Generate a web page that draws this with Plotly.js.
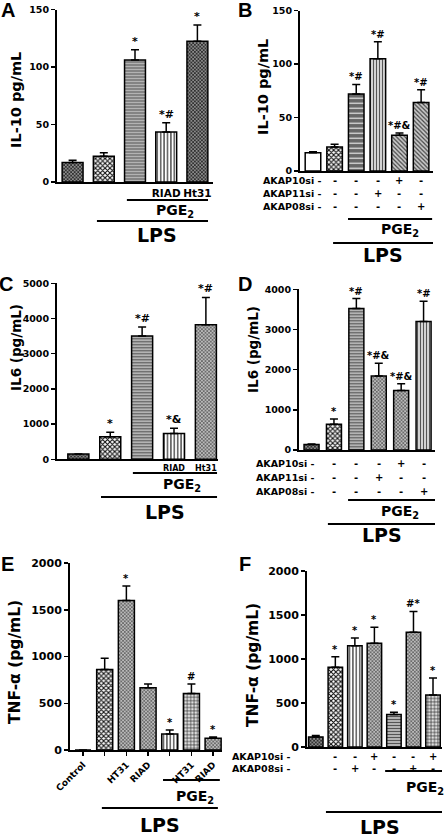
<!DOCTYPE html>
<html><head><meta charset="utf-8">
<script src="https://cdn.plot.ly/plotly-3.0.1.min.js"></script>
<style>html,body{margin:0;padding:0;background:#fff}#chart{width:445px;height:836px}</style>
</head><body><div id="chart"></div>
<script>
// ---------- DATA ----------
// Panel A : IL-10 (pg/mL)
const aValues = [17, 22.5, 106, 43.5, 122.5];
const aErrors = [2, 3, 9, 8, 14];
const aMarks  = ['', '', '*', '*#', '*'];
const aTicks  = ['', '', '', 'RIAD', 'Ht31'];
// Panel B : IL-10 (pg/mL)
const bValues = [17, 22.5, 72, 105, 33.5, 64];
const bErrors = [1, 2.5, 9, 16, 2, 12];
const bMarks  = ['', '', '*#', '*#', '*#&', '*#'];
const bAkap10 = ['-', '-', '-', '-', '+', '-'];
const bAkap11 = ['-', '-', '-', '+', '-', '-'];
const bAkap08 = ['-', '-', '-', '-', '-', '+'];
// Panel C : IL6 (pg/mL)
const cValues = [150, 640, 3500, 730, 3820];
const cErrors = [0, 130, 260, 150, 780];
const cMarks  = ['', '*', '*#', '*&', '*#'];
const cTicks  = ['', '', '', 'RIAD', 'Ht31'];
// Panel D : IL6 (pg/mL)
const dValues = [140, 640, 3520, 1840, 1480, 3200];
const dErrors = [10, 130, 250, 320, 170, 500];
const dMarks  = ['', '*', '*#', '*#&', '*#&', '*#'];
const dAkap10 = ['-', '-', '-', '-', '+', '-'];
const dAkap11 = ['-', '-', '-', '+', '-', '-'];
const dAkap08 = ['-', '-', '-', '-', '-', '+'];
// Panel E : TNF-alpha (pg/mL)
const eTicks  = ['Control', '', 'HT31', 'RIAD', '', 'HT31', 'RIAD'];
const eValues = [0, 860, 1600, 665, 170, 605, 125];
const eErrors = [0, 120, 155, 40, 45, 100, 15];
const eMarks  = ['', '', '*', '', '*', '#', '*'];
// Panel F : TNF-alpha (pg/mL)
const fValues = [115, 905, 1150, 1180, 370, 1305, 590];
const fErrors = [15, 120, 90, 180, 25, 235, 195];
const fMarks  = ['', '*', '*', '*', '*', '#*', '*'];
const fAkap10 = ['-', '-', '-', '+', '-', '-', '+'];
const fAkap08 = ['-', '-', '+', '-', '-', '+', '-'];

// ---------- STYLES ----------
const W = 445, H = 836;
const px = v => v / W, py = v => 1 - v / H;
const BOLD = 'DejaVu Sans';
const FILLS = {
  white:      {shape: '',   fg: '#000000', bg: '#ffffff', size: 3,   sol: 0.3},
  dark:       {shape: 'x',  fg: '#1e1e1e', bg: '#8a8a8a', size: 2.5, sol: 0.5},
  checker:    {shape: 'x',  fg: '#111111', bg: '#ffffff', size: 3.4, sol: 0.55},
  hlines:     {shape: '-',  fg: '#555555', bg: '#d2d2d2', size: 3,   sol: 0.5},
  hlinesDark: {shape: '-',  fg: '#f0f0f0', bg: '#666666', size: 5,   sol: 0.22},
  vlines:     {shape: '|',  fg: '#2a2a2a', bg: '#ffffff', size: 3.4, sol: 0.35},
  vlinesGray: {shape: '|',  fg: '#555555', bg: '#e0e0e0', size: 3,   sol: 0.4},
  grayx:      {shape: 'x',  fg: '#505050', bg: '#bababa', size: 2.5, sol: 0.45},
  diag:       {shape: '\\', fg: '#444444', bg: '#cacaca', size: 3,   sol: 0.4},
  grid:       {shape: '+',  fg: '#2e2e2e', bg: '#dedede', size: 3.4, sol: 0.35}
};

const panels = [
  {letter: 'A', lx: 8, ly: 10, values: aValues, errors: aErrors, marks: aMarks, ticks: aTicks,
   fills: ['dark', 'checker', 'hlines', 'vlines', 'dark'],
   xd: [57, 213], yd: [9.5, 182], yr: [0, 150], dtick: 50, xr: [-0.5, 4.5], bw: 0.67,
   tf: 9.5, mf: 11, xtf: 10.5, title: 'IL-10 pg/mL', tx: 16, ty: 100, ts: 14.5,
   brackets: [{x0: 1.74, x1: 4.34, y: 200, text: 'PGE<sub>2</sub>', lx: 3.28, ly: 211, fs: 14},
              {x0: 0.78, x1: 4.34, y: 221, text: 'LPS', lx: 2.7, ly: 235, fs: 19}], rows: []},
  {letter: 'B', lx: 245, ly: 10, values: bValues, errors: bErrors, marks: bMarks, ticks: null,
   fills: ['white', 'checker', 'hlinesDark', 'vlinesGray', 'diag', 'diag'],
   xd: [300, 433], yd: [10.7, 171], yr: [0, 150], dtick: 50, xr: [-0.6, 5.55], bw: 0.72,
   tf: 9.5, mf: 10, title: 'IL-10 pg/mL', tx: 263, ty: 87, ts: 14.5,
   brackets: [{x0: 1.62, x1: 5.51, y: 219, text: 'PGE<sub>2</sub>', lx: 4.03, ly: 230, fs: 14},
              {x0: 0.93, x1: 5.65, y: 243, text: 'LPS', lx: 3.24, ly: 255, fs: 19}],
   labelPx: 323, rows: [{name: 'AKAP10si', arr: bAkap10, y: 180}, {name: 'AKAP11si', arr: bAkap11, y: 193},
                        {name: 'AKAP08si', arr: bAkap08, y: 207}]},
  {letter: 'C', lx: 6, ly: 284, values: cValues, errors: cErrors, marks: cMarks, ticks: cTicks,
   fills: ['dark', 'checker', 'hlines', 'vlines', 'grayx'],
   xd: [57, 218], yd: [283.3, 459.3], yr: [0, 5000], dtick: 1000, xr: [-0.67, 4.38], bw: 0.66,
   tf: 9.5, mf: 11, xtf: 8, title: 'IL6 (pg/mL)', tx: 16, ty: 348, ts: 13.5,
   brackets: [{x0: 1.71, x1: 4.35, y: 473, text: 'PGE<sub>2</sub>', lx: 3.25, ly: 485, fs: 14},
              {x0: 0.71, x1: 4.35, y: 497, text: 'LPS', lx: 2.72, ly: 512, fs: 19}], rows: []},
  {letter: 'D', lx: 245, ly: 284, values: dValues, errors: dErrors, marks: dMarks, ticks: null,
   fills: ['dark', 'checker', 'hlines', 'grayx', 'grayx', 'vlinesGray'],
   xd: [299, 435], yd: [289.3, 450], yr: [0, 4000], dtick: 1000, xr: [-0.56, 5.51], bw: 0.67,
   tf: 9.5, mf: 10, title: 'IL6 (pg/mL)', tx: 253, ty: 350, ts: 13.5,
   brackets: [{x0: 1.63, x1: 5.6, y: 500, text: 'PGE<sub>2</sub>', lx: 3.95, ly: 512, fs: 14},
              {x0: 0.73, x1: 5.6, y: 524, text: 'LPS', lx: 3.15, ly: 535, fs: 19}],
   labelPx: 316, rows: [{name: 'AKAP10si', arr: dAkap10, y: 463}, {name: 'AKAP11si', arr: dAkap11, y: 477},
                        {name: 'AKAP08si', arr: dAkap08, y: 491}]},
  {letter: 'E', lx: 7, ly: 564, values: eValues, errors: eErrors, marks: eMarks, ticks: eTicks, angled: true,
   fills: ['white', 'checker', 'grayx', 'grayx', 'vlines', 'grid', 'grayx'],
   xd: [70, 222], yd: [563, 750], yr: [0, 2000], dtick: 500, xr: [-0.6, 6.41], bw: 0.74,
   tf: 11, mf: 10, xtf: 9, title: 'TNF-\u03b1 (pg/mL)', tx: 15, ty: 662, ts: 15.5,
   brackets: [{x0: 3.69, x1: 6.31, y: 780, text: 'PGE<sub>2</sub>', lx: 5.16, ly: 797, fs: 14},
              {x0: 0.87, x1: 6.22, y: 808, text: 'LPS', lx: 3.55, ly: 825, fs: 19}], rows: []},
  {letter: 'F', lx: 245, ly: 564, values: fValues, errors: fErrors, marks: fMarks, ticks: null,
   fills: ['dark', 'checker', 'vlines', 'grayx', 'hlines', 'grayx', 'grid'],
   xd: [307, 442], yd: [571, 747], yr: [0, 2000], dtick: 500, xr: [-0.45, 6.46], bw: 0.74,
   tf: 11, mf: 10, title: 'TNF-\u03b1 (pg/mL)', tx: 253, ty: 665, ts: 15.5,
   brackets: [{x0: 3.55, x1: 6.47, y: 771, text: 'PGE<sub>2</sub>', lx: 5.6, ly: 788, fs: 14},
              {x0: 0.52, x1: 6.47, y: 812, text: 'LPS', lx: 3.29, ly: 827, fs: 19}],
   labelPx: 292, rows: [{name: 'AKAP10si', arr: fAkap10, y: 756}, {name: 'AKAP08si', arr: fAkap08, y: 768}]}
];

const traces = [], shapes = [], annotations = [];
const layout = {width: W, height: H, margin: {l: 0, r: 0, t: 0, b: 0}, showlegend: false,
  paper_bgcolor: '#fff', plot_bgcolor: 'rgba(0,0,0,0)', font: {family: BOLD, color: '#000'}};

panels.forEach((p, i) => {
  const n = i + 1, sx = n === 1 ? '' : String(n);
  const xa = 'x' + sx, ya = 'y' + sx;
  const idx = p.values.map((_, k) => k);
  const f = p.fills.map(k => FILLS[k]);
  traces.push({
    type: 'bar', uid: 'panel' + p.letter, x: idx, y: p.values, xaxis: xa, yaxis: ya, width: p.bw,
    // scalar marker colour, so the per-bar pattern fg/bg colours are honoured
    marker: {color: '#ffffff', line: {color: '#000', width: 1.5},
      pattern: {shape: f.map(s => s.shape), fgcolor: f.map(s => s.fg), bgcolor: f.map(s => s.bg),
                size: f.map(s => s.size), solidity: f.map(s => s.sol), fgopacity: 1, fillmode: 'replace'}},
    error_y: {type: 'data', symmetric: false, array: p.errors, arrayminus: p.errors.map(() => 0),
              color: '#000', thickness: 1.5, width: 4, visible: true},
    hoverinfo: 'skip'
  });
  layout['xaxis' + sx] = {
    domain: [px(p.xd[0]), px(p.xd[1])], range: p.xr, anchor: ya, showgrid: false, zeroline: false,
    showline: true, linecolor: '#000', linewidth: 2,
    tickvals: p.ticks ? idx : [], ticktext: p.ticks || [],
    ticks: p.angled ? 'outside' : '', ticklen: 4, tickwidth: 1.5, tickcolor: '#000',
    tickangle: p.angled ? -45 : 0,
    tickfont: {family: BOLD, size: p.xtf || 9, weight: 'bold', color: '#000'}, fixedrange: true
  };
  layout['yaxis' + sx] = {
    domain: [py(p.yd[1]), py(p.yd[0])], range: p.yr, anchor: xa, showgrid: false, zeroline: false,
    showline: true, linecolor: '#000', linewidth: 2, ticks: 'outside', ticklen: 4, tickwidth: 1.5,
    tickcolor: '#000', dtick: p.dtick, tick0: 0,
    tickfont: {family: BOLD, size: p.tf, weight: 'bold', color: '#000'}, fixedrange: true
  };
  // significance marks above the error bars
  p.marks.forEach((m, k) => {
    if (!m) return;
    annotations.push({xref: xa, yref: ya, x: k, y: p.values[k] + p.errors[k], text: m, showarrow: false,
      xanchor: 'center', yanchor: 'bottom', yshift: 0,
      font: {family: BOLD, size: p.mf, weight: 'bold', color: '#000'}});
  });
  // treatment brackets
  p.brackets.forEach(b => {
    shapes.push({type: 'line', xref: xa, yref: 'paper', x0: b.x0, x1: b.x1, y0: py(b.y), y1: py(b.y),
      line: {color: '#000', width: 2}});
    annotations.push({xref: xa, yref: 'paper', x: b.lx, y: py(b.ly), text: b.text, showarrow: false,
      xanchor: 'center', yanchor: 'middle', font: {family: BOLD, size: b.fs, weight: 'bold', color: '#000'}});
  });
  // siRNA table
  p.rows.forEach(r => {
    annotations.push({xref: 'paper', yref: 'paper', x: px(p.labelPx), y: py(r.y), text: r.name + ' ' + r.arr[0],
      showarrow: false, xanchor: 'right', yanchor: 'middle',
      font: {family: BOLD, size: 9.5, weight: 'bold', color: '#000'}});
    r.arr.forEach((s, k) => {
      if (k === 0) return;
      annotations.push({xref: xa, yref: 'paper', x: k, y: py(r.y), text: s, showarrow: false,
        xanchor: 'center', yanchor: 'middle', font: {family: BOLD, size: 10, weight: 'bold', color: '#000'}});
    });
  });
  // y-axis title
  annotations.push({xref: 'paper', yref: 'paper', x: px(p.tx), y: py(p.ty), text: p.title, textangle: -90,
    showarrow: false, xanchor: 'center', yanchor: 'middle',
    font: {family: BOLD, size: p.ts, weight: 'bold', color: '#000'}});
  // panel letter
  annotations.push({xref: 'paper', yref: 'paper', x: px(p.lx), y: py(p.ly), text: p.letter, showarrow: false,
    xanchor: 'center', yanchor: 'middle', font: {family: 'Liberation Sans', size: 20, weight: 'bold', color: '#000'}});
});

layout.shapes = shapes;
layout.annotations = annotations;
Plotly.newPlot('chart', traces, layout, {staticPlot: true, displayModeBar: false});
</script>
</body></html>
